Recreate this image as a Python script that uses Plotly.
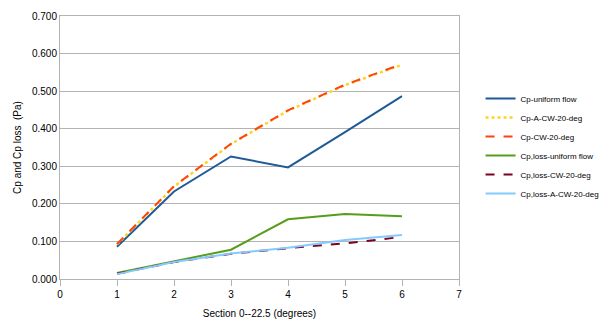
import plotly.graph_objects as go

# Section positions along the 0–22.5 degree sweep
sections = [1, 2, 3, 4, 5, 6]

# Pressure coefficient series
cp_uniform = [0.086, 0.233, 0.326, 0.297, 0.391, 0.487]
cp_a_cw_20 = [0.092, 0.246, 0.359, 0.448, 0.516, 0.570]
cp_cw_20 = [0.093, 0.247, 0.360, 0.449, 0.517, 0.572]

# Pressure loss coefficient series
cp_loss_uniform = [0.016, 0.047, 0.078, 0.159, 0.173, 0.167]
cp_loss_cw_20 = [0.014, 0.045, 0.067, 0.082, 0.095, 0.112]
cp_loss_a_cw_20 = [0.013, 0.045, 0.068, 0.083, 0.104, 0.117]

series = [
    ("Cp-uniform flow", cp_uniform, "#1f5a96", "solid", 2),
    ("Cp-A-CW-20-deg", cp_a_cw_20, "#ffd320", "dot", 2.5),
    ("Cp-CW-20-deg", cp_cw_20, "#ff420e", "dash", 2),
    ("Cp,loss-uniform flow", cp_loss_uniform, "#579d1c", "solid", 2),
    ("Cp,loss-CW-20-deg", cp_loss_cw_20, "#7e0021", "dash", 2),
    ("Cp,loss-A-CW-20-deg", cp_loss_a_cw_20, "#83caff", "solid", 2),
]

fig = go.Figure()
for name, vals, color, dash, width in series:
    fig.add_trace(go.Scatter(
        x=sections, y=vals, name=name, mode="lines",
        line=dict(color=color, dash=dash, width=width),
    ))

axis_font = dict(family="Liberation Sans, Arial, sans-serif", size=10, color="#000000")

fig.update_layout(
    width=606, height=327,
    margin=dict(l=60, r=147, t=10, b=47),
    paper_bgcolor="white", plot_bgcolor="white",
    font=axis_font,
    showlegend=True,
    legend=dict(
        xref="container", yref="container",
        x=0.793, y=0.743, xanchor="left", yanchor="top",
        itemwidth=30,
        font=dict(family="Liberation Sans, Arial, sans-serif", size=8, color="#000000"),
        bgcolor="rgba(0,0,0,0)", tracegroupgap=0,
    ),
    xaxis=dict(
        range=[0, 7], dtick=1, tick0=0,
        showgrid=False, zeroline=False,
        showline=True, linecolor="#b3b3b3", linewidth=1, mirror=True,
        ticks="outside", ticklen=6, tickcolor="#b3b3b3",
        tickfont=axis_font,
        title=dict(text="Section 0--22.5 (degrees)", font=axis_font, standoff=10),
    ),
    yaxis=dict(
        range=[0, 0.7], dtick=0.1, tickformat=".3f",
        showgrid=True, gridcolor="#b3b3b3", gridwidth=1, zeroline=False,
        showline=True, linecolor="#b3b3b3", linewidth=1, mirror=True,
        ticks="", tickfont=axis_font,
        title=dict(text="Cp and Cp loss  (Pa)", font=axis_font, standoff=8),
    ),
)

fig.write_html("out.html")
